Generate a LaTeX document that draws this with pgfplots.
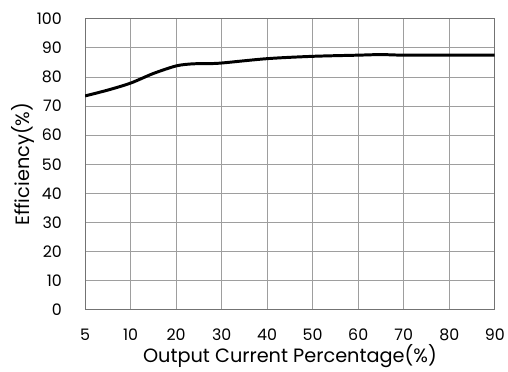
\documentclass[border=0pt]{standalone}
\usepackage{fontspec}
\setmainfont{Poppins}
\usepackage{pgfplots}
\pgfplotsset{compat=1.18}
\begin{document}
\begin{tikzpicture}
\begin{axis}[
  scale only axis,
  width=414pt, height=294pt,
  xmin=0, xmax=9, ymin=0, ymax=100,
  xtick={0,1,2,3,4,5,6,7,8,9},
  xticklabels={5,10,20,30,40,50,60,70,80,90},
  ytick={0,10,20,30,40,50,60,70,80,90,100},
  grid=major,
  major grid style={draw=black!38, line width=0.9pt},
  axis line style={draw=black!55, line width=0.9pt},
  major tick length=0pt,
  tick label style={font=\fontsize{16}{18}\selectfont},
  /pgf/number format/assume math mode=true,
  xticklabel style={anchor=center, yshift=-25pt},
  yticklabel style={anchor=east, xshift=-20pt},
  xlabel={Output Current Percentage(\%)},
  ylabel={Efficiency(\%)},
  label style={font=\fontsize{19.5}{21}\selectfont},
  xlabel style={at={(axis description cs:0.5,0)}, anchor=center, yshift=-47pt},
  ylabel style={at={(axis description cs:0,0.5)}, anchor=center, yshift=63pt},
]
\addplot[black, line width=3pt, smooth, tension=0.5] coordinates {
(0,73.5) (0.5,75.5) (1,77.9) (1.5,81.2) (2,83.8) (2.35,84.5) (2.7,84.6) (3,84.8)
(4,86.3) (5,87.1) (6,87.5) (6.5,87.7) (7,87.5) (8,87.5) (9,87.5)
};
\end{axis}
\path (current axis.south west) ++(-86pt,-56pt);
\path (current axis.north east) ++(8pt,19pt);
\end{tikzpicture}
\end{document}
